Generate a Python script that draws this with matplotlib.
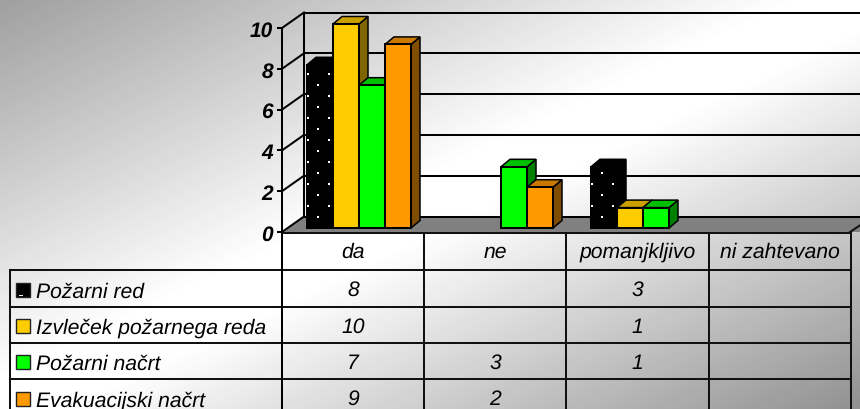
import numpy as np
import matplotlib
matplotlib.use("Agg")
import matplotlib.pyplot as plt
from matplotlib.colors import LinearSegmentedColormap
from matplotlib.patches import Polygon

plt.rcParams["font.family"] = ["Liberation Sans", "DejaVu Sans"]
plt.rcParams["text.hinting"] = "none"

categories = ["da", "ne", "pomanjkljivo", "ni zahtevano"]
series = ["Požarni red", "Izvleček požarnega reda", "Požarni načrt", "Evakuacijski načrt"]
pozarni_red = [8, None, 3, None]
izvlecek = [10, None, 1, None]
pozarni_nacrt = [7, 3, 1, None]
evakuacijski = [9, 2, None, None]
values = [pozarni_red, izvlecek, pozarni_nacrt, evakuacijski]
yticks = [0, 2, 4, 6, 8, 10]

front = ["#000000", "#FFCC00", "#00FF00", "#FF9900"]
top = ["#000000", "#C9A000", "#00C000", "#C97800"]
side = ["#000000", "#806600", "#008000", "#804C00"]

LW = 1.45
FS = 15.2
PX_X = 142.0   # pixels per category
PX_Y = 20.4    # pixels per unit

fig = plt.figure(figsize=(8.6, 4.1), dpi=100)

# background + table, in pixels
bg = fig.add_axes([0, 0, 1, 1])
bg.set_xlim(0, 860); bg.set_ylim(410, 0); bg.axis("off")
xx, yy = np.meshgrid(np.linspace(0, 1, 430), np.linspace(0, 1, 205))
cmap = LinearSegmentedColormap.from_list(
    "bg", [(0, "#a0a0a0"), (0.46, "#ffffff"), (0.54, "#ffffff"), (1, "#929292")])
bg.imshow((xx + yy) / 2, extent=[0, 860, 410, 0], aspect="auto", cmap=cmap, vmin=0, vmax=1)

col_x = [282, 424, 566, 708.5, 851]
row_y = [234, 271, 308, 344, 380, 417]
value_base = [296, 333, 369, 405]
label_base = [298, 334, 370, 407]
for y in row_y[1:]:
    bg.plot([10, 851], [y, y], color="#111111", lw=LW)
bg.plot([282, 851], [234, 234], color="#111111", lw=LW)
bg.plot([10, 10], [271, 410], color="#111111", lw=LW)
for x in col_x[1:]:
    bg.plot([x, x], [234, 410], color="#111111", lw=LW)
bg.plot([282, 282], [29, 410], color="black", lw=LW)

for i, c in enumerate(categories):
    bg.text((col_x[i] + col_x[i + 1]) / 2, 258, c, ha="center", va="baseline",
            style="italic", fontsize=FS)
for r, name in enumerate(series):
    bg.add_patch(plt.Rectangle((16, label_base[r] - 14), 14, 14, fc=front[r], ec="#222222", lw=1))
    if r == 0:
        bg.plot([19, 22], [label_base[r] - 2, label_base[r] - 2], color="white", lw=0.7)
    bg.text(36, label_base[r], name, ha="left", va="baseline", style="italic", fontsize=FS)
    for i, v in enumerate(values[r]):
        if v is not None:
            bg.text((col_x[i] + col_x[i + 1]) / 2, value_base[r], str(v), ha="center",
                    va="baseline", style="italic", fontsize=FS)

# chart, front plane of the 3d box
ax = fig.add_axes([282 / 860, (410 - 233) / 410, 568 / 860, 204 / 410])
ax.set_xlim(0, 4); ax.set_ylim(0, 10)
ax.patch.set_alpha(0)
for s in ax.spines.values():
    s.set_visible(False)
ax.set_xticks([])
ax.set_yticks(yticks)
ax.set_yticklabels([str(t) for t in yticks], fontweight="bold", style="italic", fontsize=15)
ax.tick_params(axis="y", length=3.6, width=LW, pad=3)

wall_dx = 22 / PX_X
wall_dy = 15.5 / PX_Y
right = 4.2
edge = 9 / PX_X

ax.add_patch(Polygon([(0, 0), (wall_dx, wall_dy), (right, wall_dy), (right, 6 / PX_Y), (4 + edge, 0)],
                     fc="#808080", ec="none", clip_on=False))
ax.plot([4, 4 + 2 * edge], [0, 12 / PX_Y], color="#111111", lw=LW, clip_on=False)
for t in yticks:
    ax.plot([0, wall_dx], [t, t + wall_dy], color="black", lw=LW, clip_on=False)
    ax.plot([wall_dx, right], [t + wall_dy, t + wall_dy], color="black", lw=LW, clip_on=False)
ax.plot([wall_dx, wall_dx], [wall_dy, 10 + wall_dy], color="black", lw=LW, clip_on=False)

bar_w = 26 / PX_X
bar_start = 25 / PX_X
bar_base = 4 / PX_Y
dep_x = 9 / PX_X
dep_y = 7.5 / PX_Y

for s, vals in enumerate(values):
    for c, v in enumerate(vals):
        if v is None:
            continue
        x0 = c + bar_start + s * bar_w
        x1 = x0 + bar_w
        y0 = bar_base
        y1 = bar_base + v
        z = 3 + s
        ax.add_patch(Polygon([(x1, y0), (x1 + dep_x, y0 + dep_y), (x1 + dep_x, y1 + dep_y), (x1, y1)],
                             fc=side[s], ec="black", lw=1.1, clip_on=False, zorder=z))
        ax.add_patch(Polygon([(x0, y1), (x0 + dep_x, y1 + dep_y), (x1 + dep_x, y1 + dep_y), (x1, y1)],
                             fc=top[s], ec="black", lw=1.1, clip_on=False, zorder=z))
        ax.bar(x0, v, width=bar_w, bottom=y0, align="edge", color=front[s], edgecolor="black",
               linewidth=LW, clip_on=False, zorder=z + 0.1)
        if s == 0:
            # dotted fill of the black series
            dots_x, dots_y = [], []
            for row in range(int(v * PX_Y / 11)):
                py = 11 + row * 11
                offs = [11] if row % 2 == 0 else [1, 22]
                for o in offs:
                    dots_x.append(x0 + o / PX_X)
                    dots_y.append(y0 + py / PX_Y)
            ax.scatter(dots_x, dots_y, s=3.2, marker="s", color="white", linewidths=0,
                       clip_on=False, zorder=z + 0.2)

fig.savefig("out.png", dpi=100)
